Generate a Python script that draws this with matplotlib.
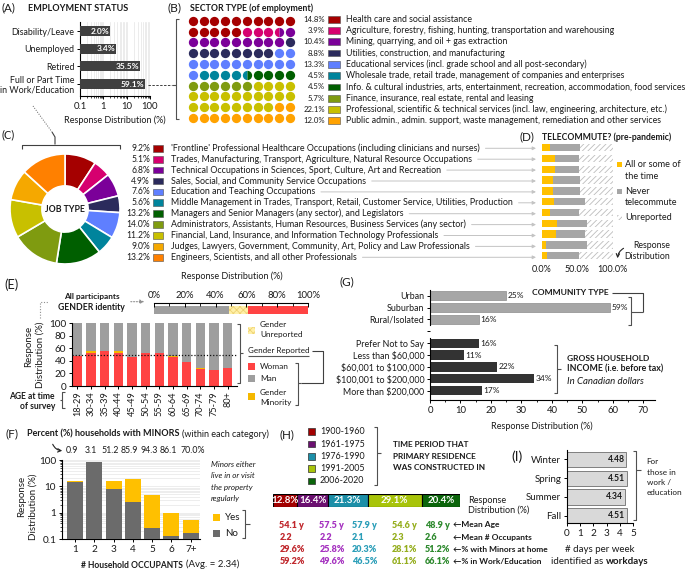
import numpy as np
import matplotlib
matplotlib.use('Agg')
import matplotlib.pyplot as plt
from matplotlib.patches import Rectangle
from matplotlib.ticker import LogLocator, NullFormatter, MultipleLocator

plt.rcParams['font.family'] = ['Lato', 'DejaVu Sans']
plt.rcParams['hatch.linewidth'] = 0.6
plt.rcParams['axes.linewidth'] = 0.8

# ---------------- DATA ----------------
emp_labels = ['Disability/Leave', 'Unemployed', 'Retired', 'Full or Part Time\nin Work/Education']
emp_values = [2.0, 3.4, 35.5, 59.1]

sector_labels = ['Health care and social assistance',
                 'Agriculture, forestry, fishing, hunting, transportation and warehousing',
                 'Mining, quarrying, and oil + gas extraction',
                 'Utilities, construction, and manufacturing',
                 'Educational services (incl. grade school and all post-secondary)',
                 'Wholesale trade, retail trade, management of companies and enterprises',
                 'Info. & cultural industries, arts, entertainment, recreation, accommodation, food services',
                 'Finance, insurance, real estate, rental and leasing',
                 'Professional, scientific & technical services (incl. law, engineering, architecture, etc.)',
                 'Public admin., admin. support, waste management, remediation and other services']
sector_values = [14.8, 3.9, 10.4, 8.8, 13.3, 4.5, 4.5, 5.7, 22.1, 12.0]
sector_colors = ['#A50000', '#D6006F', '#7B0099', '#2B2B5C', '#5F7FFF',
                 '#00849C', '#005F00', '#7F9B10', '#C8C000', '#FFA200']

job_labels = ["'Frontline' Professional Healthcare Occupations (including clinicians and nurses)",
              'Trades, Manufacturing, Transport, Agriculture, Natural Resource Occupations',
              'Technical Occupations in Sciences, Sport, Culture, Art and Recreation',
              'Sales, Social, and Community Service Occupations',
              'Education and Teaching Occupations',
              'Middle Management in Trades, Transport, Retail, Customer Service, Utilities, Production',
              'Managers and Senior Managers (any sector), and Legislators',
              'Administrators, Assistants, Human Resources, Business Services (any sector)',
              'Financial, Land, Insurance, and Information Technology Professionals',
              'Judges, Lawyers, Government, Community, Art, Policy and Law Professionals',
              'Engineers, Scientists, and all other Professionals']
job_values = [9.2, 5.1, 6.8, 4.9, 7.6, 5.6, 13.2, 14.0, 11.2, 9.0, 13.2]
job_colors = ['#A50000', '#D6006F', '#7B0099', '#2B2B5C', '#5F7FFF', '#00849C',
              '#005F00', '#7F9B10', '#C8C000', '#F5A800', '#FF8000']

tele_some = [11.0, 19.0, 19.0, 15.5, 16.5, 17.5, 11.5, 22.0, 20.0, 6.0, 8.0]
tele_never = [43.0, 34.0, 34.0, 38.5, 37.5, 43.5, 41.5, 42.3, 41.0, 57.4, 45.0]
tele_unrep = [46.0, 47.0, 47.0, 46.0, 46.0, 39.0, 47.0, 35.7, 39.0, 36.6, 47.0]

overall_gender_labels = ['Man', 'Gender Unreported', 'Woman']
overall_gender_values = [49.0, 12.0, 39.0]
age_groups = ['18-29', '30-34', '35-39', '40-44', '45-49', '50-54', '55-59',
              '60-64', '65-69', '70-74', '75-79', '80+']
woman = [48, 53, 56, 53, 47, 52, 52, 47, 39, 27, 26, 29]
minority = [0, 2.5, 0, 2.5, 0, 0, 0.5, 1, 0, 1.5, 0, 0]
man = [52, 44.5, 44, 44.5, 53, 48, 47.5, 52, 61, 71.5, 74, 71]

community_labels = ['Urban', 'Suburban', 'Rural/Isolated']
community_values = [25, 59, 16]
income_labels = ['Prefer Not to Say', 'Less than \\$60,000', '\\$60,001 to \\$100,000',
                 '\\$100,001 to \\$200,000', 'More than \\$200,000']
income_values = [16, 11, 22, 34, 17]

occupants = ['1', '2', '3', '4', '5', '6', '7+']
occ_total = [15.5, 85.0, 16.5, 18.5, 4.8, 1.0, 0.56]
minors_pct = [0.9, 3.1, 51.2, 85.9, 94.3, 86.1, 70.0]

periods = ['1900-1960', '1961-1975', '1976-1990', '1991-2005', '2006-2020']
period_share = [12.8, 16.4, 21.3, 29.1, 20.4]
period_age = [54.1, 57.5, 57.9, 54.6, 48.9]
period_occ = [2.2, 2.2, 2.1, 2.3, 2.6]
period_minors = [29.6, 25.8, 20.3, 28.1, 51.2]
period_work = [59.2, 49.6, 46.5, 61.1, 66.1]
period_colors = ['#A30000', '#6B1070', '#1C8FA8', '#A8C40A', '#0B650B']
period_text_colors = ['#C0282D', '#A532C0', '#2B9EB8', '#95AE1E', '#2E8A2E']

seasons = ['Winter', 'Spring', 'Summer', 'Fall']
workdays = [4.48, 4.51, 4.34, 4.51]

# ---------------- FIGURE ----------------
W, H = 685, 569
fig = plt.figure(figsize=(W / 100, H / 100), dpi=100)
fig.patch.set_facecolor('white')
TXT = '#1A1A1A'


def pax(x0, y0, x1, y1):
    return fig.add_axes([x0 / W, 1 - y1 / H, (x1 - x0) / W, (y1 - y0) / H])


ov = fig.add_axes([0, 0, 1, 1])
ov.set_xlim(0, W)
ov.set_ylim(H, 0)
ov.axis('off')
ov.set_zorder(50)
ov.patch.set_alpha(0)

fits = []


def T(x, y, s, size=6.5, w=None, **kw):
    kw.setdefault('color', TXT)
    kw.setdefault('va', 'center')
    kw.setdefault('ha', 'left')
    t = ov.text(x, y, s, fontsize=size, **kw)
    if w is not None:
        fits.append(([t], w))
    return t


def Ln(xs, ys, color='#404040', lw=0.8, **kw):
    ov.plot(xs, ys, color=color, lw=lw, solid_capstyle='butt', clip_on=False, **kw)


def sq(x, y, c, w=7, h=7, hatch=None, ec='#505050', lw=0.4):
    ov.add_patch(Rectangle((x, y - h / 2), w, h, facecolor=c, edgecolor=ec, lw=lw, hatch=hatch))


def vbrace(x, y0, y1, d=1, hook=3, point=3, ym=None, color='#505050'):
    Ln([x - d * hook, x, x, x - d * hook], [y0, y0, y1, y1], color=color)
    ym = (y0 + y1) / 2 if ym is None else ym
    Ln([x, x + d * point], [ym, ym], color=color)


def clean(ax, keep=('left', 'bottom')):
    for s in ['top', 'right', 'left', 'bottom']:
        ax.spines[s].set_visible(s in keep)


# ---------------- (A) ----------------
T(1, 8, '(A)', 9, w=14)
T(28, 8, 'EMPLOYMENT STATUS', 7, w=100, weight='bold')
axA = pax(80, 22.2, 150, 96.5)
yA = np.arange(len(emp_values))
axA.barh(yA, emp_values, height=0.56, color='#404040', zorder=3)
axA.set_xscale('log')
axA.set_xlim(0.1, 100)
axA.set_ylim(3.7, -0.5)
axA.set_yticks(yA)
axA.set_yticklabels(emp_labels, fontsize=6.4, color=TXT, linespacing=1.0)
axA.set_xticks([0.1, 1, 10, 100])
axA.set_xticklabels(['0.1', '1', '10', '100'], fontsize=6.8, color=TXT)
axA.xaxis.set_minor_locator(LogLocator(base=10, subs=np.arange(2, 10)))
axA.xaxis.set_minor_formatter(NullFormatter())
axA.grid(True, axis='x', which='both', color='#E4E4E4', lw=0.5)
axA.set_axisbelow(True)
clean(axA)
axA.tick_params(axis='both', which='major', length=2.5, width=0.7, pad=1.5)
axA.tick_params(axis='x', which='minor', length=1.5, width=0.5)
for i, v in enumerate(emp_values):
    axA.text(v / 1.07, i, f'{v:.1f}%', ha='right', va='center', color='white',
             fontsize=6, weight='bold', zorder=4)
T(115, 120, 'Response Distribution (%)', 6.5, ha='center')
Ln([148, 172], [84.5, 84.5], ls=(0, (2.5, 1.5)), lw=0.7)
vbrace(176, 18.5, 119, d=-1, hook=3.5, point=4, ym=84.5)

# ---------------- (B) ----------------
T(168, 8, '(B)', 9, w=14)
T(190, 8, 'SECTOR TYPE (of employment)', 7, w=125, weight='bold')
axB = pax(187.3, 15.3, 295.4, 123.4)
axB.set_xlim(-0.5, 9.5)
axB.set_ylim(9.5, -0.5)
axB.axis('off')
bounds = np.concatenate([[0], np.cumsum(sector_values)])
for k in range(100):
    r, c = divmod(k, 10)
    frac = [max(0.0, min(k + 1, bounds[j + 1]) - max(k, bounds[j])) for j in range(len(sector_values))]
    order = np.argsort(frac)[::-1]
    a, b = order[0], order[1]
    if frac[b] >= 0.25:
        lo, hi = sorted([a, b])
        axB.plot(c, r, 'o', ms=6.7, mew=0, fillstyle='left',
                 markerfacecolor=sector_colors[lo], markerfacecoloralt=sector_colors[hi])
    else:
        axB.plot(c, r, 'o', ms=6.7, mew=0, color=sector_colors[a])

b_pct, b_lab = [], []
for i, (lab, v, c) in enumerate(zip(sector_labels, sector_values, sector_colors)):
    y = 19.3 + i * 11.27
    b_pct.append(T(325, y, f'{v:.1f}%', 6, ha='right'))
    sq(328, y, c, w=11.7, h=6.7)
    b_lab.append(T(346, y, lab, 6.5))
fits.append((b_pct, 21.7))
fits.append((b_lab, 337))

# ---------------- (C) ----------------
T(2, 135, '(C)', 9, w=13)
Ln([33, 52], [106, 132], ls=(0, (1, 1.5)), lw=0.7, color='#606060')
Ln([52, 55, 55], [132, 137, 144.5], lw=0.8)
Ln([22.5, 22.5, 120, 120], [149, 144.5, 144.5, 149], lw=0.8)
axC = pax(10, 154, 120, 264)
axC.pie(job_values, colors=job_colors, startangle=90, counterclock=False, radius=1,
        wedgeprops=dict(width=0.58, edgecolor='white', linewidth=1.2))
axC.set_xlim(-1, 1)
axC.set_ylim(-1, 1)
axC.set_aspect('equal')
tjob = axC.text(0, 0, 'JOB TYPE', weight='bold', ha='center', va='center', fontsize=7, color=TXT)
fits.append(([tjob], 40))

c_pct, c_lab = [], []
for i, (lab, v, c) in enumerate(zip(job_labels, job_values, job_colors)):
    y = 148.3 + i * 10.9
    c_pct.append(T(150, y, f'{v:.1f}%', 6, ha='right'))
    sq(152.7, y, c, w=10.6, h=6.7)
    c_lab.append(T(170.7, y, lab, 6.5))
fits.append((c_pct, 24))
fits.append((c_lab, 339))

# ---------------- (D) ----------------
T(520, 137, '(D)', 9, w=15)
T(541.7, 137, 'TELECOMMUTE? (pre-pandemic)', 7, w=131, weight='bold')
axD = pax(541.7, 142.3, 612.7, 261.1)
yD = np.arange(len(tele_some))
left2 = [a + b for a, b in zip(tele_some, tele_never)]
axD.barh(yD, tele_some, height=0.7, color='#FFC000')
axD.barh(yD, tele_never, left=tele_some, height=0.7, color='#A6A6A6')
axD.barh(yD, tele_unrep, left=left2, height=0.7, color='white', edgecolor='#BDBDBD',
         hatch='//////', linewidth=0)
axD.set_xlim(0, 100)
axD.set_ylim(10.5, -0.5)
clean(axD, keep=())
axD.set_yticks([])
axD.set_xticks([0, 50, 100])
axD.set_xticklabels(['0.0%', '50.0%', '100.0%'], fontsize=6.5, color=TXT)
axD.tick_params(axis='x', length=0, pad=3)
sq(617.3, 164.3, '#FFC000', w=5, h=5, ec='none')
d_leg = [T(625, 164.3, 'All or some of', 7),
         T(625, 176.7, 'the time', 7),
         T(625, 191, 'Never', 7),
         T(625, 202.7, 'telecommute', 7),
         T(625, 217.3, 'Unreported', 7)]
fits.append((d_leg, 56))
sq(617.3, 191, '#A6A6A6', w=5, h=5, ec='none')
sq(617.3, 217.3, 'white', w=5, h=5, hatch='//////', ec='#BDBDBD', lw=0)
T(670, 245.7, 'Response', 6.3, ha='right')
T(670, 256, 'Distribution', 6.3, ha='right')
ov.annotate('', xy=(617.5, 261), xytext=(626, 247),
            arrowprops=dict(arrowstyle='->', connectionstyle='arc3,rad=0.35', color='#222222',
                            lw=0.8, mutation_scale=6))

# ---------------- (E) ----------------
T(4, 285, '(E)', 9, w=14)
T(232, 276.7, 'Response Distribution (%)', 6.5, ha='center')
T(91.7, 296.7, 'All participants', 7, w=56, weight='bold', ha='center')
T(91.7, 307.7, 'GENDER identity', 7, w=67, weight='bold', ha='center')
Ln([40, 40, 48], [318, 301.7, 301.7], ls=(0, (1, 1.5)), lw=0.8, color='#909090')
ov.annotate('', xy=(147, 301.7), xytext=(128, 301.7),
            arrowprops=dict(arrowstyle='-|>', color='#909090', lw=0.8, ls=(0, (1, 1.5)),
                            mutation_scale=6))
axEt = pax(154, 302.7, 308, 315)
lft = 0
gcols = ['#9E9E9E', '#FFF0A8', '#FF4343']
for v, c, lab in zip(overall_gender_values, gcols, overall_gender_labels):
    if lab == 'Gender Unreported':
        axEt.barh(0.4, v, left=lft, height=0.7, color=c, edgecolor='#EED273', hatch='xxxxx', lw=0)
    else:
        axEt.barh(0.4, v, left=lft, height=0.7, color=c)
    lft += v
axEt.set_xlim(0, 100)
axEt.set_ylim(0, 1)
clean(axEt, keep=('top',))
axEt.xaxis.tick_top()
axEt.set_yticks([])
axEt.set_xticks(range(0, 101, 20))
axEt.set_xticklabels([f'{v}%' for v in range(0, 101, 20)], fontsize=6.8, color=TXT)
axEt.xaxis.set_minor_locator(MultipleLocator(10))
axEt.tick_params(axis='x', which='major', direction='in', length=3, width=0.7, pad=2)
axEt.tick_params(axis='x', which='minor', direction='in', length=2, width=0.6)

axE = pax(71.7, 323.3, 236.7, 386)
xE = np.arange(len(age_groups))
wm = np.array(woman, dtype=float)
mn = np.array(minority, dtype=float)
axE.bar(xE, wm, 0.68, color='#FF4343')
axE.bar(xE, mn, 0.68, bottom=wm, color='#F5B800')
axE.bar(xE, man, 0.68, bottom=wm + mn, color='#9E9E9E')
axE.axhline(50, ls=(0, (1, 1.5)), color='#111111', lw=0.9)
axE.set_xlim(-0.41, 11.66)
axE.set_ylim(0, 100)
axE.set_xticks(xE)
axE.set_xticklabels(age_groups, rotation=90, fontsize=6.6, color=TXT)
axE.set_yticks(range(0, 101, 20))
axE.set_yticklabels([str(v) for v in range(0, 101, 20)], fontsize=7.2, color=TXT)
clean(axE)
axE.tick_params(axis='both', length=2.5, width=0.7, pad=1.5)
T(28.3, 346.7, 'Response', 7, rotation=90, ha='center')
T(40, 355, 'Distribution (%)', 7, rotation=90, ha='center')
t_age = [T(55, 396, 'AGE at time', 7, weight='bold', ha='right'),
         T(55, 406.7, 'of survey', 7, weight='bold', ha='right')]
fits.append((t_age, 46))
vbrace(62.5, 392, 408, d=-1, hook=2.5, point=2.5)
vbrace(240, 324, 383, d=1, hook=3, point=3, ym=353)
sq(248, 330, '#FFF0A8', w=7, h=7, hatch='xxxxx', ec='#EED273', lw=0)
e_leg = [T(260, 324, 'Gender', 7), T(260, 334, 'Unreported', 7),
         T(260, 366.7, 'Woman', 7), T(260, 378.3, 'Man', 7),
         T(260, 392.3, 'Gender', 7), T(260, 402.7, 'Minority', 7)]
fits.append((e_leg, 42))
t_gr = T(248, 350.7, 'Gender Reported', 7, w=61)
Ln([312, 323, 323, 301.5], [350.7, 350.7, 383.3, 383.3], lw=0.8)
vbrace(298.5, 363, 405, d=1, hook=3, point=3, ym=383.3)
sq(248, 366.7, '#FF4343', w=7, h=7, ec='none')
sq(248, 378.3, '#9E9E9E', w=7, h=7, ec='none')
sq(248, 396.7, '#F5B800', w=7, h=7, ec='none')

# ---------------- (G) ----------------
T(340, 281.7, '(G)', 9, w=15)
axG = pax(430, 289.7, 655, 400)
yc = [0, 1, 2]
yi = [4, 5, 6, 7, 8]
axG.barh(yc, community_values, height=0.78, color='#A6A6A6', edgecolor='#8C8C8C', lw=0.5)
axG.barh(yi, income_values, height=0.78, color='#333333')
for y, v in zip(yc + yi, community_values + income_values):
    axG.text(v + 0.6, y, f'{v}%', ha='left', va='center', fontsize=6, color=TXT)
axG.set_ylim(8.78, -0.5)
axG.set_xlim(0, 73.8)
axG.set_yticks(range(9))
axG.set_yticklabels(community_labels + [''] + income_labels, fontsize=6.4, color=TXT)
axG.set_xticks(range(0, 71, 10))
axG.set_xticklabels([str(v) for v in range(0, 71, 10)], fontsize=6.8, color=TXT)
axG.xaxis.set_minor_locator(MultipleLocator(5))
clean(axG, keep=('bottom',))
axG.plot([0, 0], [-0.5, 2.45], color='black', lw=0.8, clip_on=False)
axG.plot([0, 0], [3.6, 8.78], color='black', lw=0.8, clip_on=False)
axG.tick_params(axis='both', which='major', length=2.5, width=0.7, pad=1.5)
axG.tick_params(axis='x', which='minor', length=1.5, width=0.6)
T(542, 426, 'Response Distribution (%)', 6.5, ha='center')
T(531.7, 292.7, 'COMMUNITY TYPE', 7, w=77, weight='bold')
Ln([612, 643.3, 643.3], [292.7, 292.7, 311.7], lw=0.8)
vbrace(631, 297, 325, d=1, hook=3, point=12.3, ym=311.7)
vbrace(556.7, 345, 393.3, d=1, hook=3, point=4, ym=369)
T(567, 358.3, 'GROSS HOUSEHOLD', 7, w=82, weight='bold')
T(567, 369.3, 'INCOME (i.e. before tax)', 7, w=97, weight='bold')
T(567, 381.7, 'In Canadian dollars', 7, w=77, style='italic')

# ---------------- (F) ----------------
T(6, 434, '(F)', 9, w=13)
tF = T(26.7, 434, 'Percent (%) households with MINORS', 7, w=153, weight='bold')
ov.annotate('', xy=(65, 450.7), xytext=(51.7, 441.7),
            arrowprops=dict(arrowstyle='->', connectionstyle='arc3,rad=0.4', color='#222222',
                            lw=0.8, mutation_scale=6))
axF = pax(61.7, 460, 200, 539.3)
xF = np.arange(len(occupants))
tot = np.array(occ_total)
pm = np.array(minors_pct) / 100
no = tot * (1 - pm)
yes = tot * pm
axF.bar(xF, no, 0.83, color='#6B6B6B', zorder=3)
axF.bar(xF, yes, 0.83, bottom=no, color='#FFC000', zorder=3)
axF.set_yscale('log')
axF.set_ylim(0.1, 100)
axF.set_xlim(-0.69, 6.48)
axF.set_yticks([0.1, 1, 10, 100])
axF.set_yticklabels(['0.1', '1', '10', '100'], fontsize=7.2, color=TXT)
axF.yaxis.set_minor_locator(LogLocator(base=10, subs=np.arange(2, 10)))
axF.yaxis.set_minor_formatter(NullFormatter())
axF.grid(True, axis='y', which='both', color='#E6E6E6', lw=0.5)
axF.set_axisbelow(True)
axF.set_xticks(xF)
axF.set_xticklabels(occupants, fontsize=7.2, color=TXT)
clean(axF)
axF.tick_params(axis='both', which='major', length=2.5, width=0.7, pad=1.5)
axF.tick_params(axis='y', which='minor', length=1.5, width=0.5)
for i, p in enumerate(minors_pct):
    s = f'{p:.1f}' + ('%' if i == len(minors_pct) - 1 else '')
    axF.annotate(s, xy=(i, 1), xycoords=('data', 'axes fraction'),
                 xytext=(-2.5 + (4 if i == len(minors_pct) - 1 else 0), 6.5), textcoords='offset points',
                 ha='center', va='center', fontsize=6.3, color=TXT)
T(21.7, 496.7, 'Response', 7, rotation=90, ha='center')
T(33.3, 506.7, 'Distribution (%)', 7, rotation=90, ha='center')
f_leg = []
for j, s in enumerate(['Minors either', 'live in or visit', 'the property', 'regularly']):
    f_leg.append(T(211, 464.3 + j * 11.4, s, 6.5, style='italic'))
fits.append((f_leg, 44))
sq(213, 517.7, '#FFC000', w=7, h=7, ec='none')
T(225, 517.7, 'Yes', 7)
sq(213, 533.3, '#6B6B6B', w=7, h=7, ec='none')
T(225, 533.3, 'No', 7)
vbrace(245, 510, 538, d=1, hook=3, point=5)
T(131.7, 565.7, '# Household OCCUPANTS', 7, w=103, weight='bold', ha='center')
T(186, 564, '(Avg. = 2.34)', 7, w=54)

# ---------------- (H) ----------------
T(280, 435, '(H)', 9, w=15)
h_lab = []
for i, (p, c) in enumerate(zip(periods, period_colors)):
    y = 431.7 + i * 12.3
    sq(308.3, y, c, w=6.7, h=6.7, ec='#303030', lw=0.5)
    h_lab.append(T(320, y, p, 7))
fits.append((h_lab, 45))
vbrace(377, 427, 485, d=1, hook=3, point=4, ym=452.7)
h_head = [T(392.7, 444.3, 'TIME PERIOD THAT', 7, weight='bold'),
          T(392.7, 456, 'PRIMARY RESIDENCE', 7, weight='bold'),
          T(392.7, 467.7, 'WAS CONSTRUCTED IN', 7, weight='bold')]
fits.append((h_head, 93))
axH = pax(273.3, 494, 460, 507.3)
lefts = np.concatenate([[0], np.cumsum(period_share)[:-1]])
axH.barh(0.5, period_share, left=lefts, height=1, color=period_colors, edgecolor='black', lw=0.8)
for l, v in zip(lefts, period_share):
    axH.text(l + v / 2, 0.5, f'{v:.1f}%', ha='center', va='center', color='white',
             fontsize=7, weight='bold')
axH.set_xlim(0, 100)
axH.set_ylim(0, 1)
axH.axis('off')
T(468.3, 500, 'Response', 6.5)
T(468.3, 510.5, 'Distribution (%)', 6.5)
col_x = [279.5, 319.3, 351.7, 391.7, 425]
row_y = [525, 537.3, 549.3, 561.7]
rows = [[f'{v:.1f} y' for v in period_age],
        [f'{v:.1f}' for v in period_occ],
        [f'{v:.1f}%' for v in period_minors],
        [f'{v:.1f}%' for v in period_work]]
h_rows = []
for y, row in zip(row_y, rows):
    for x, s, c in zip(col_x, row, period_text_colors):
        h_rows.append(T(x, y, s, 7, weight='heavy', color=c))
fits.append((h_rows, 25.5))
h_arr = []
for y, s in zip(row_y, ['\u2190Mean Age', '\u2190Mean # Occupants',
                        '\u2190% with Minors at home', '\u2190% in Work/Education']):
    h_arr.append(T(452.7, y, s, 7, weight='bold'))
fits.append((h_arr, 96))

# ---------------- (I) ----------------
T(511.7, 456.7, '(I)', 9, w=11)
axI = pax(566.7, 450, 633.3, 523.3)
axI.barh(range(len(seasons)), workdays, height=0.8, color='#D9D9D9', edgecolor='#7F7F7F', lw=0.7)
for i, v in enumerate(workdays):
    axI.text(v - 0.12, i, f'{v:.2f}', ha='right', va='center', fontsize=6.2, weight='bold', color=TXT)
axI.set_xlim(0, 5)
axI.set_ylim(3.4, -0.5)
axI.set_yticks(range(len(seasons)))
axI.set_yticklabels(seasons, fontsize=7, color=TXT)
axI.set_xticks(range(6))
axI.set_xticklabels([str(v) for v in range(6)], fontsize=7.2, color=TXT)
clean(axI)
axI.tick_params(axis='both', length=2.5, width=0.7, pad=1.5)
vbrace(636, 451, 520, d=1, hook=3, point=5, ym=470)
i_leg = []
for j, s in enumerate(['For', 'those in', 'work /', 'education']):
    i_leg.append(T(646.7, 461.7 + j * 10.4, s, 6.5))
fits.append((i_leg, 35))
T(600, 549.3, '# days per week', 7, ha='center')
tI1 = T(0, 561.7, 'identified as', 7)
tI2 = T(0, 561.7, 'workdays', 7, weight='bold')

# ---------------- fit text sizes ----------------
R = fig.canvas.get_renderer()


def wpx(t):
    return t.get_window_extent(R).width


for texts, target in fits:
    m = max(wpx(t) for t in texts)
    for t in texts:
        t.set_fontsize(t.get_fontsize() * target / m)

# F title continuation
bb = tF.get_window_extent(R)
T(bb.x1 + 2.5, 434, '(within each category)', tF.get_fontsize())

# I bottom caption
w1, w2 = wpx(tI1), wpx(tI2)
x0 = 600 - (w1 + w2 + 2.5) / 2
tI1.set_x(x0)
tI2.set_x(x0 + w1 + 2.5)

# Gender Reported underline
bb = t_gr.get_window_extent(R)
Ln([bb.x0, bb.x1], [355.5, 355.5], lw=0.8, color='#555555')

# C label connector arrows to D
for t in c_lab:
    bb = t.get_window_extent(R)
    y = t.get_position()[1]
    ov.annotate('', xy=(536, y), xytext=(bb.x1 + 6, y),
                arrowprops=dict(arrowstyle='-|>', color='#C4C4C4', lw=0.7, mutation_scale=5,
                                shrinkA=0, shrinkB=0))

fig.savefig('out.png', dpi=100)
